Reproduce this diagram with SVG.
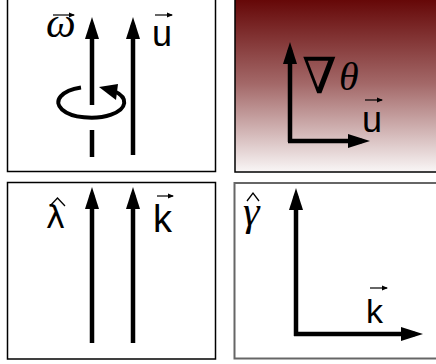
<svg xmlns="http://www.w3.org/2000/svg" width="436" height="364" viewBox="0 0 436 364">
<defs>
<linearGradient id="grad" x1="0" y1="0" x2="0" y2="1">
<stop offset="0" stop-color="#620202"/>
<stop offset="0.5" stop-color="#a36868"/>
<stop offset="1" stop-color="#f9f6f6"/>
</linearGradient>
<marker id="big" markerUnits="userSpaceOnUse" markerWidth="22" markerHeight="14" refX="14" refY="7" orient="auto" overflow="visible">
<path d="M0,0 L22,7 L0,14 z" fill="#000"/>
</marker>
<marker id="small" markerUnits="userSpaceOnUse" markerWidth="6" markerHeight="5" refX="5" refY="2.5" orient="auto" overflow="visible">
<path d="M0,0 L6,2.5 L0,5 z" fill="#000"/>
</marker>
</defs>
<style>
.panel{fill:#fff;stroke:#000;stroke-width:1.5}
.shaft{fill:none;stroke:#000;stroke-width:4.5;marker-end:url(#big)}
.vec{fill:none;stroke:#000;stroke-width:1.2;marker-end:url(#small)}
.hat{fill:none;stroke:#000;stroke-width:1.3}
.sans{font-family:"Liberation Sans","DejaVu Sans",sans-serif;font-size:36px;fill:#000}
.serif{font-family:"Liberation Serif","DejaVu Serif",serif;fill:#000}
</style>
<rect width="436" height="364" fill="#fff"/>

<g id="panel-vorticity">
<rect class="panel" x="7.5" y="-5" width="208" height="176.5"/>
<text class="serif" x="46" y="37" font-size="42" font-style="italic">ω</text>
<text class="sans" x="152" y="46">u</text>
<path d="M92,105 L92,25" class="shaft"/>
<path d="M92,130 L92,157" fill="none" stroke="#000" stroke-width="4.5"/>
<path d="M133,155 L133,25" class="shaft"/>
<path d="M81,87.5 A33,15.5 0 1 0 114,91" fill="none" stroke="#000" stroke-width="4"/>
<path d="M99,87 L118,84 L116,100 z" fill="#000"/>
</g>

<g id="panel-gradient">
<rect x="235" y="-5" width="210" height="177" fill="url(#grad)" stroke="#000" stroke-width="1.5"/>
<text class="serif" x="302" y="93" font-size="50">∇</text>
<text class="serif" x="339" y="90" font-size="40" font-style="italic">θ</text>
<text class="sans" x="362" y="132">u</text>
<path d="M290,142 L290,50" class="shaft"/>
<path d="M288,141 L362,141" class="shaft"/>
</g>

<g id="panel-wavelength">
<rect class="panel" x="7.5" y="182.5" width="208" height="176.5"/>
<text class="sans" x="46" y="228" style="font-family:'DejaVu Sans',sans-serif;font-size:32px">λ</text>
<text class="sans" x="153" y="232" style="font-size:38px">k</text>
<path d="M92,343 L92,195" class="shaft"/>
<path d="M133,343 L133,195" class="shaft"/>
</g>

<g id="panel-wavenumber">
<rect x="234.5" y="183" width="210" height="175.5" fill="#fff" stroke="#666" stroke-width="2"/>
<text class="serif" x="243" y="225" font-size="42" font-style="italic">γ</text>
<text class="sans" x="366" y="323" style="font-size:34px">k</text>
<path d="M296,336 L296,196" class="shaft"/>
<path d="M294,334 L415,334" class="shaft"/>
</g>

<g id="connectors">
<path class="vec" d="M53,15 L74,15"/>
<path class="vec" d="M155,15 L172,15"/>
<path class="vec" d="M365,100 L382,100"/>
<path class="vec" d="M157,196 L173,196"/>
<path class="vec" d="M370,288 L387,288"/>
<path class="hat" d="M50,206 L57.5,198 L65,206"/>
<path class="hat" d="M247,201 L253,193 L259,201"/>
</g>
</svg>
